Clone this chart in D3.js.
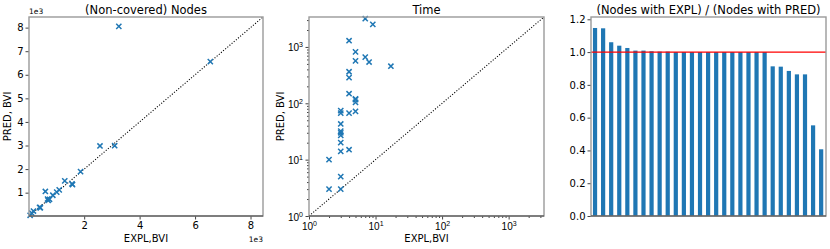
<!DOCTYPE html>
<html>
<head>
<meta charset="utf-8">
<script src="https://cdn.jsdelivr.net/npm/d3@7"></script>
<style>
  body { margin: 0; background: #fff; }
  svg { font-family: "DejaVu Sans", sans-serif; }
</style>
</head>
<body>
<script>
  // Panel 1: non-covered nodes (EXPL vs PRED)
  const nodesExpl = [3250, 6550, 2570, 3100, 1870, 1300, 1560, 1580, 600, 1100, 1010, 870, 680, 700, 750, 390, 420, 170, 110, 50];
  const nodesPred = [8050, 6560, 2980, 2990, 1890, 1500, 1370, 1340, 1050, 1120, 1020, 890, 730, 670, 720, 380, 360, 220, 130, 40];
  const nodesTicks = [2000, 4000, 6000, 8000];
  const nodesYTicks = [1000, 2000, 3000, 4000, 5000, 6000, 7000, 8000];

  // Panel 2: time (log-log)
  const timeExpl = [2, 2, 3, 3, 3, 3, 3, 3, 3, 3, 3, 3, 4, 4, 4, 4, 4, 4, 5, 5, 5, 5, 5, 5, 7, 7, 8, 9.1, 17];
  const timePred = [3, 10, 3, 5, 14, 20, 27, 30, 32, 43, 67, 74, 15, 67, 148, 286, 363, 1290, 72, 104, 116, 120, 565, 820, 660, 3170, 540, 2520, 455];
  const timeTicks = [1, 10, 100, 1000];
  const timeTickLabels = ['0', '1', '2', '3'];

  // Panel 3: ratio of nodes
  const ratios = [1.147, 1.145, 1.06, 1.039, 1.025, 1.009, 1.009, 1.005, 1.003, 1.003,
    1.0, 1.0, 1.0, 1.0, 1.0, 1.0, 1.0, 1.0, 1.0, 1.0, 1.0, 1.0,
    0.913, 0.911, 0.885, 0.864, 0.864, 0.553, 0.407];
  const ratioTicks = [0, 0.2, 0.4, 0.6, 0.8, 1.0, 1.2];

  const blue = '#1f77b4';
  const plotTop = 17, plotBottom = 216;

  const svg = d3.select('body').append('svg')
    .attr('width', 830).attr('height', 249);

  function frame(g, x0, x1) {
    g.append('rect')
      .attr('x', x0).attr('y', plotTop)
      .attr('width', x1 - x0).attr('height', plotBottom - plotTop)
      .attr('fill', 'none').attr('stroke', '#9a9a9a').attr('stroke-width', 1.4);
    g.append('line')
      .attr('x1', x0).attr('x2', x1).attr('y1', plotBottom).attr('y2', plotBottom)
      .attr('stroke', '#444').attr('stroke-width', 1.2);
  }

  function title(x, text) {
    svg.append('text').attr('x', x).attr('y', 14)
      .attr('text-anchor', 'middle').style('font-size', '11.5px').text(text);
  }

  function xLabel(x, text) {
    svg.append('text').attr('x', x).attr('y', 242)
      .attr('text-anchor', 'middle').style('font-size', '10px').text(text);
  }

  function yLabel(x, text) {
    svg.append('text').attr('transform', `translate(${x},${(plotTop + plotBottom) / 2}) rotate(-90)`)
      .attr('text-anchor', 'middle').style('font-size', '10px').text(text);
  }

  function crosses(g, xs, ys, sx, sy) {
    const r = 2.6;
    g.selectAll(null).data(xs.map((d, i) => [d, ys[i]])).enter()
      .append('path')
      .attr('d', d => {
        const cx = sx(d[0]), cy = sy(d[1]);
        return `M${cx - r},${cy - r}L${cx + r},${cy + r}M${cx - r},${cy + r}L${cx + r},${cy - r}`;
      })
      .attr('stroke', blue).attr('stroke-width', 1.5).attr('fill', 'none');
  }

  function diagonal(g, x, y, lo, hi) {
    g.append('line')
      .attr('x1', x(lo)).attr('y1', y(lo)).attr('x2', x(hi)).attr('y2', y(hi))
      .attr('stroke', '#000').attr('stroke-width', 1.1).attr('stroke-dasharray', '1.1,1.7');
  }

  function styleAxis(a) {
    a.select('.domain').remove();
    a.selectAll('line').attr('stroke', '#444');
    a.selectAll('text').style('font-size', '10px').attr('fill', '#000')
      .style('font-family', '"DejaVu Sans", sans-serif');
  }

  // ---------- Panel 1 ----------
  {
    const x0 = 29, x1 = 263;
    const x = d3.scaleLinear().domain([10, 8450]).range([x0, x1]);
    const y = d3.scaleLinear().domain([10, 8450]).range([plotBottom, plotTop]);
    const g = svg.append('g');

    diagonal(g, x, y, 10, 8450);
    crosses(g, nodesExpl, nodesPred, x, y);

    const ax = g.append('g').attr('transform', `translate(0,${plotBottom})`)
      .call(d3.axisBottom(x).tickValues(nodesTicks).tickSize(3.5).tickPadding(2).tickFormat(d => d / 1000));
    styleAxis(ax);
    const ay = g.append('g').attr('transform', `translate(${x0},0)`)
      .call(d3.axisLeft(y).tickValues(nodesYTicks).tickSize(3.5).tickPadding(2).tickFormat(d => d / 1000));
    styleAxis(ay);
    frame(g, x0, x1);

    svg.append('text').attr('x', x0).attr('y', 14).style('font-size', '7.5px').text('1e3');
    svg.append('text').attr('x', x1).attr('y', 242).attr('text-anchor', 'end').style('font-size', '7.5px').text('1e3');
    title((x0 + x1) / 2, '(Non-covered) Nodes');
    xLabel((x0 + x1) / 2, 'EXPL,BVI');
    yLabel(11, 'PRED, BVI');
  }

  // ---------- Panel 2 ----------
  {
    const x0 = 309, x1 = 544;
    const x = d3.scaleLog().domain([1, 3400]).range([x0, x1]);
    const y = d3.scaleLog().domain([1, 3400]).range([plotBottom, plotTop]);
    const g = svg.append('g');

    diagonal(g, x, y, 1, 3400);
    crosses(g, timeExpl, timePred, x, y);

    const minors = [];
    for (let e = 0; e < 4; e++) {
      for (let k = 2; k <= 9; k++) {
        const v = k * Math.pow(10, e);
        if (v <= 3400) minors.push(v);
      }
    }
    const mx = g.append('g').attr('transform', `translate(0,${plotBottom})`)
      .call(d3.axisBottom(x).tickValues(minors).tickSize(2).tickFormat(''));
    styleAxis(mx);
    const my = g.append('g').attr('transform', `translate(${x0},0)`)
      .call(d3.axisLeft(y).tickValues(minors).tickSize(2).tickFormat(''));
    styleAxis(my);

    const ax = g.append('g').attr('transform', `translate(0,${plotBottom})`)
      .call(d3.axisBottom(x).tickValues(timeTicks).tickSize(3.5).tickPadding(2).tickFormat(''));
    styleAxis(ax);
    ax.selectAll('.tick').append('text').attr('y', 13.5).attr('text-anchor', 'middle')
      .style('font-size', '10px').attr('fill', '#000')
      .html((d, i) => `10<tspan dy="-4" style="font-size:7px">${timeTickLabels[i]}</tspan>`);

    const ay = g.append('g').attr('transform', `translate(${x0},0)`)
      .call(d3.axisLeft(y).tickValues(timeTicks).tickSize(3.5).tickPadding(2).tickFormat(''));
    styleAxis(ay);
    ay.selectAll('.tick').append('text').attr('x', -6).attr('y', 4).attr('text-anchor', 'end')
      .style('font-size', '10px').attr('fill', '#000')
      .html((d, i) => `10<tspan dy="-4" style="font-size:7px">${timeTickLabels[i]}</tspan>`);
    frame(g, x0, x1);

    title((x0 + x1) / 2, 'Time');
    xLabel((x0 + x1) / 2, 'EXPL,BVI');
    yLabel(284, 'PRED, BVI');
  }

  // ---------- Panel 3 ----------
  {
    const x0 = 591, x1 = 826;
    const x = d3.scaleLinear().domain([-0.5, ratios.length - 0.4]).range([x0, x1]);
    const y = d3.scaleLinear().domain([0, 1.214]).range([plotBottom, plotTop]);
    const g = svg.append('g');
    const bw = 0.52;

    g.selectAll('rect.bar').data(ratios).enter().append('rect')
      .attr('class', 'bar')
      .attr('x', (d, i) => x(i - bw / 2))
      .attr('width', x(bw) - x(0))
      .attr('y', d => y(d))
      .attr('height', d => y(0) - y(d))
      .attr('fill', blue);

    g.append('line')
      .attr('x1', x0).attr('x2', x1).attr('y1', y(1)).attr('y2', y(1))
      .attr('stroke', '#ff0000').attr('stroke-width', 1.2);

    const ay = g.append('g').attr('transform', `translate(${x0},0)`)
      .call(d3.axisLeft(y).tickValues(ratioTicks).tickSize(3.5).tickPadding(2).tickFormat(d3.format('.1f')));
    styleAxis(ay);
    frame(g, x0, x1);

    title((x0 + x1) / 2, '(Nodes with EXPL) / (Nodes with PRED)');
  }
</script>
</body>
</html>
